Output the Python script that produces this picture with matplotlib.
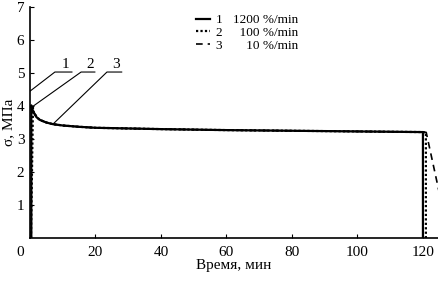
import matplotlib
matplotlib.use("Agg")
import matplotlib.pyplot as plt
import matplotlib.transforms as mtransforms

plt.rcParams['font.family'] = ['Liberation Serif', 'DejaVu Serif']
plt.rcParams['mathtext.fontset'] = 'stix'

# Curve 1: 1200 %/min (solid)
t1 = [0.4, 0.4, 0.6, 1.0, 2.0, 3.0, 5.0, 7.0, 10.0, 15.0, 20.0, 30.0, 40.0, 60.0, 80.0, 100.0, 120.0, 120.0]
s1 = [0.0, 4.02, 3.95, 3.82, 3.66, 3.58, 3.50, 3.45, 3.41, 3.37, 3.34, 3.32, 3.30, 3.27, 3.25, 3.23, 3.21, 0.0]
# Curve 2: 100 %/min (dotted)
t2 = [0.3, 0.9, 1.0, 2.0, 3.0, 5.0, 7.0, 10.0, 15.0, 20.0, 30.0, 40.0, 60.0, 80.0, 100.0, 120.0, 120.9, 120.9]
s2 = [0.0, 3.95, 3.84, 3.67, 3.58, 3.50, 3.45, 3.41, 3.37, 3.34, 3.32, 3.30, 3.27, 3.25, 3.23, 3.21, 3.20, 0.0]
# Curve 3: 10 %/min (dashed)
t3 = [1.0, 2.0, 3.0, 5.0, 7.0, 10.0, 15.0, 20.0, 30.0, 40.0, 60.0, 80.0, 100.0, 120.0, 121.0, 128.0]
s3 = [3.85, 3.67, 3.58, 3.50, 3.45, 3.41, 3.37, 3.34, 3.32, 3.30, 3.27, 3.25, 3.23, 3.21, 3.20, 0.0]

rate_labels = ["1200 %/min", "100 %/min", "10 %/min"]
curve_ids = ["1", "2", "3"]

# leader lines: target point, underline start, underline end
leader_target_t = [0.0, 0.6, 7.0]
leader_target_s = [4.45, 3.97, 3.45]
leader_u0 = [7.6, 15.6, 23.5]
leader_u1 = [12.8, 19.8, 28.0]
leader_y = 5.03

xticks = [0, 20, 40, 60, 80, 100, 120]
yticks = [1, 2, 3, 4, 5, 6, 7]

fig = plt.figure(figsize=(4.38, 2.81), dpi=100)
ax = fig.add_axes([0.0685, 0.153, 0.9315, 0.822])

l1, = ax.plot(t1, s1, color='black', lw=1.6, ls='-')
l2, = ax.plot(t2, s2, color='black', lw=1.6, ls=(0, (1, 1)))
l3, = ax.plot(t3, s3, color='black', lw=1.2, ls=(0, (4, 3)))

for i in range(3):
    ax.plot([leader_target_t[i], leader_u0[i], leader_u1[i]],
            [leader_target_s[i], leader_y, leader_y], color='black', lw=0.8)
    ax.text((leader_u0[i] + leader_u1[i]) / 2 + 0.6, leader_y + 0.02, curve_ids[i],
            ha='center', va='bottom', fontsize=11)

labels = [f"{cid}   " + " " * (2 * (4 - len(r.split()[0]))) + r for cid, r in zip(curve_ids, rate_labels)]
ax.legend([l1, l2, l3], labels, loc='upper left', bbox_to_anchor=(0.385, 1.01),
          frameon=False, fontsize=9.5, handlelength=1.0, handletextpad=0.5,
          labelspacing=0.05, borderpad=0.2)

ax.set_xlim(0, 124.6)
ax.set_ylim(0, 7)
ax.set_xticks(xticks)
ax.set_yticks(yticks)
ax.tick_params(direction='in', length=3, width=0.8, labelsize=11)
ax.tick_params(axis='x', pad=6)
ax.tick_params(axis='y', pad=4)
ax.spines['top'].set_visible(False)
ax.spines['right'].set_visible(False)
for sp in ['left', 'bottom']:
    ax.spines[sp].set_linewidth(1.2)

# shift the "0" x tick label left, as in the reference
fig.canvas.draw()
lbl0 = ax.get_xticklabels()[0]
lbl0.set_transform(lbl0.get_transform() + mtransforms.ScaledTranslation(-10 / 100, 0, fig.dpi_scale_trans))

ax.set_xlabel("Время, мин", fontsize=11, labelpad=0)
ax.set_ylabel("σ, МПа", fontsize=11)
ax.yaxis.set_label_coords(-0.036, 0.5)

fig.savefig("out.png", dpi=100)
